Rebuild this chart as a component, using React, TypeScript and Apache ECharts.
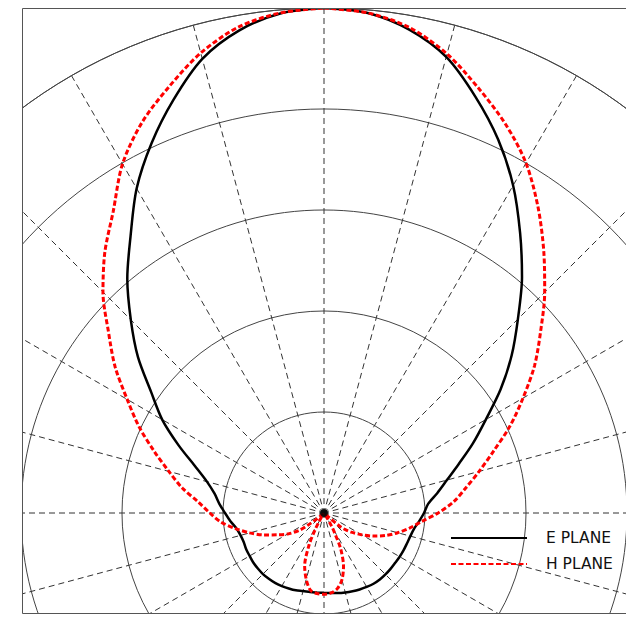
import { useEffect, useRef } from 'react';
import * as echarts from 'echarts';

// Angles in degrees, 0 = boresight (top), clockwise
const eAngles = [
  0, 5, 10, 15, 20, 25, 30, 35, 40, 45, 50, 55, 60, 65, 70, 75, 80, 85, 90, 95,
  100, 105, 110, 115, 120, 125, 130, 135, 140, 145, 150, 155, 160, 165, 170, 175,
  180, 185, 190, 195, 200, 205, 210, 215, 220, 225, 230, 235, 240, 245, 250, 255,
  260, 265, 270, 275, 280, 285, 290, 295, 300, 305, 310, 315, 320, 325, 330, 335,
  340, 345, 350, 355, 360,
];
// E-plane relative field (1 = outer ring)
const ePlane = [
  1.0, 0.994, 0.972, 0.935, 0.877, 0.816, 0.749, 0.677, 0.61, 0.543, 0.485, 0.427,
  0.37, 0.325, 0.284, 0.252, 0.228, 0.207, 0.198, 0.189, 0.181, 0.177, 0.175,
  0.174, 0.173, 0.172, 0.172, 0.172, 0.172, 0.171, 0.169, 0.167, 0.165, 0.163,
  0.161, 0.159, 0.158, 0.158, 0.159, 0.16, 0.163, 0.165, 0.167, 0.169, 0.17,
  0.171, 0.171, 0.171, 0.17, 0.17, 0.169, 0.171, 0.176, 0.186, 0.196, 0.208,
  0.22, 0.24, 0.272, 0.318, 0.37, 0.418, 0.481, 0.541, 0.606, 0.668, 0.742,
  0.808, 0.871, 0.931, 0.97, 0.993, 1.0,
];

const hAngles = [
  0, 5, 10, 15, 20, 25, 30, 35, 40, 45, 50, 55, 60, 65, 70, 75, 80, 85, 90, 95,
  100, 105, 110, 115, 120, 125, 128, 130, 132, 135, 140, 145, 150, 152, 155, 160,
  165, 170, 175, 180, 185, 190, 195, 200, 205, 208, 210, 215, 220, 225, 228, 230,
  233, 235, 240, 245, 250, 255, 260, 265, 270, 275, 280, 285, 290, 295, 300, 305,
  310, 315, 320, 325, 330, 335, 340, 345, 350, 355, 360,
];
// H-plane relative field
const hPlane = [
  1.0, 0.994, 0.976, 0.941, 0.895, 0.85, 0.8, 0.739, 0.677, 0.618, 0.56, 0.509,
  0.455, 0.406, 0.357, 0.318, 0.285, 0.258, 0.226, 0.194, 0.172, 0.151, 0.13,
  0.108, 0.086, 0.066, 0.053, 0.044, 0.01, 0.003, 0.003, 0.006, 0.03, 0.045,
  0.078, 0.113, 0.137, 0.152, 0.159, 0.161, 0.16, 0.155, 0.136, 0.112, 0.07,
  0.038, 0.02, 0.006, 0.003, 0.003, 0.008, 0.018, 0.04, 0.06, 0.083, 0.102,
  0.127, 0.152, 0.178, 0.205, 0.226, 0.25, 0.285, 0.318, 0.358, 0.404, 0.45,
  0.505, 0.557, 0.619, 0.675, 0.728, 0.798, 0.853, 0.898, 0.943, 0.977, 0.994,
  1.0,
];

const seriesNames = ['E PLANE', 'H PLANE'];

export default function App() {
  const ref = useRef<HTMLDivElement>(null);

  useEffect(() => {
    if (!ref.current) return;
    const chart = echarts.init(ref.current, null, { renderer: 'svg' });
    chart.setOption({
      animation: false,
      polar: { center: [302, 505], radius: 505 },
      angleAxis: {
        type: 'value',
        min: 0,
        max: 360,
        interval: 15,
        startAngle: 90,
        clockwise: true,
        axisLine: { show: true, lineStyle: { color: '#444', width: 1 } },
        axisTick: { show: false },
        axisLabel: { show: false },
        splitLine: {
          show: true,
          lineStyle: { color: '#333', width: 1, type: [6, 4] },
        },
      },
      radiusAxis: {
        type: 'value',
        min: 0,
        max: 1,
        interval: 0.2,
        axisLine: { show: false },
        axisTick: { show: false },
        axisLabel: { show: false },
        splitLine: { show: true, lineStyle: { color: '#444', width: 1 } },
      },
      legend: {
        data: seriesNames,
        orient: 'vertical',
        left: 423,
        top: 517,
        itemWidth: 76,
        itemHeight: 14,
        itemGap: 10,
        itemStyle: { opacity: 0 },
        textStyle: {
          fontSize: 15.5,
          fontFamily: 'DejaVu Sans',
          color: '#111',
          padding: [0, 0, 0, 14],
        },
      },
      graphic: [
        {
          type: 'rect',
          shape: { x: 0.5, y: 0.5, width: 605, height: 605 },
          style: { fill: 'none', stroke: '#555', lineWidth: 1 },
          z: 100,
        },
      ],
      series: [
        {
          name: seriesNames[0],
          type: 'line',
          coordinateSystem: 'polar',
          data: eAngles.map((a, i) => [ePlane[i], a]),
          symbol: 'none',
          smooth: 0.3,
          lineStyle: { color: '#000', width: 2.5 },
          itemStyle: { color: '#000' },
          z: 3,
        },
        {
          name: seriesNames[1],
          type: 'line',
          coordinateSystem: 'polar',
          data: hAngles.map((a, i) => [hPlane[i], a]),
          symbol: 'none',
          smooth: 0.3,
          lineStyle: { color: '#ff0000', width: 3, type: [5, 2.5] },
          itemStyle: { color: '#ff0000' },
          z: 4,
        },
        {
          type: 'scatter',
          coordinateSystem: 'polar',
          data: [[0, 0]],
          symbolSize: 8,
          itemStyle: { color: '#000' },
          silent: true,
          z: 5,
        },
      ],
    });
    return () => chart.dispose();
  }, []);

  return (
    <div
      ref={ref}
      style={{ marginLeft: 14, width: 606, height: 606 }}
    />
  );
}
